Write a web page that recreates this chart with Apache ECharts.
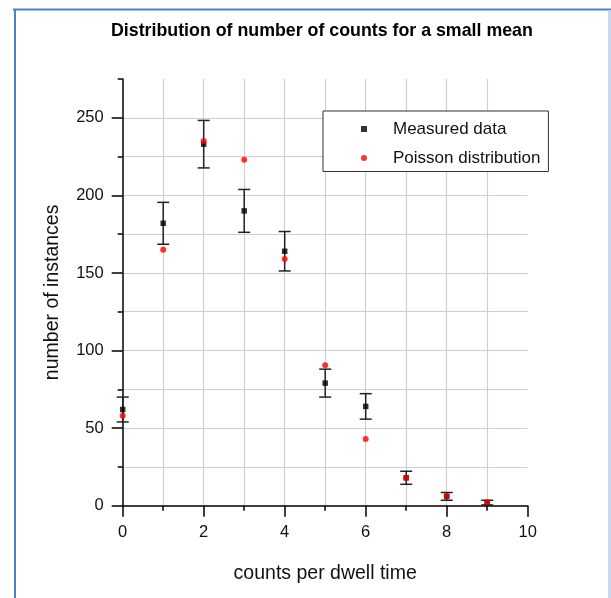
<!DOCTYPE html>
<html>
<head>
<meta charset="utf-8">
<script src="https://cdn.jsdelivr.net/npm/echarts@6/dist/echarts.min.js"></script>
<style>
html,body{margin:0;padding:0;background:#fff;}
#chart{width:611px;height:598px;}
</style>
</head>
<body>
<div id="chart"></div>
<script>
// ---- data ----
var counts = [0, 1, 2, 3, 4, 5, 6, 7, 8, 9];
var measured = [62, 182, 233, 190, 164, 79, 64, 18, 6, 2];
var measuredErr = [8, 13.5, 15.3, 13.8, 12.7, 9, 8.2, 4.2, 2.5, 1.5];
var poisson = [58, 165, 235, 223, 159, 90.5, 43, 17.8, 6.2, 2.2];
var xMajorTicks = [0, 2, 4, 6, 8, 10];
var yMajorTicks = [0, 50, 100, 150, 200, 250];

var FONT = '"Liberation Sans", Arial, Helvetica, sans-serif';
var chart = echarts.init(document.getElementById('chart'), null, {renderer: 'canvas'});

var option = {
  animation: false,
  backgroundColor: '#fff',
  title: {
    text: 'Distribution of number of counts for a small mean',
    left: 111, top: 22.5, padding: 0,
    textStyle: {fontFamily: FONT, fontSize: 17.8, fontWeight: 'bold', color: '#000'}
  },
  graphic: [
    {type: 'line', shape: {x1: 13, y1: 9.5, x2: 611, y2: 9.5}, style: {stroke: '#4f81bd', lineWidth: 2}, z: 100},
    {type: 'line', shape: {x1: 15, y1: 9, x2: 15, y2: 598}, style: {stroke: '#4f81bd', lineWidth: 2}, z: 100},
    {type: 'line', shape: {x1: 609.5, y1: 10.5, x2: 609.5, y2: 598}, style: {stroke: '#c9d8ec', lineWidth: 3}, z: 100}
  ],
  legend: {
    orient: 'vertical',
    left: 323, top: 111,
    padding: [9.5, 8, 5, 38],
    itemGap: 12,
    itemWidth: 6, itemHeight: 6,
    backgroundColor: '#fff',
    borderColor: '#333', borderWidth: 1,
    textStyle: {fontFamily: FONT, fontSize: 17, color: '#111', padding: [0, 0, 0, 21]},
    data: ['Measured data', 'Poisson distribution']
  },
  grid: {left: 122.7, right: 83.3, top: 79, bottom: 92.3, containLabel: false, outerBoundsMode: 'none'},
  xAxis: [
    {
      type: 'value', position: 'bottom', min: 0, max: 10, interval: 1,
      axisLine: {show: true, onZero: false, lineStyle: {color: '#000', width: 1.5}},
      axisTick: {show: true, length: 5, lineStyle: {color: '#000', width: 1.5}},
      axisLabel: {show: false},
      splitLine: {show: true, showMinLine: false, showMaxLine: false, lineStyle: {color: '#cfcfcf', width: 1.2}},
      name: 'counts per dwell time', nameLocation: 'middle', nameGap: 57.6,
      nameTextStyle: {fontFamily: FONT, fontSize: 19.5, color: '#111'}
    },
    {
      type: 'value', position: 'bottom', min: 0, max: 10, interval: 2,
      axisLine: {show: false, onZero: false},
      axisTick: {show: true, length: 11, customValues: xMajorTicks, lineStyle: {color: '#000', width: 1.5}},
      axisLabel: {show: true, margin: 18, customValues: xMajorTicks, fontFamily: FONT, fontSize: 16.5, color: '#111'},
      splitLine: {show: false}
    }
  ],
  yAxis: [
    {
      type: 'value', position: 'left', min: 0, max: 275, interval: 25,
      axisLine: {show: true, onZero: false, lineStyle: {color: '#000', width: 1.5}},
      axisTick: {show: true, length: 5, lineStyle: {color: '#000', width: 1.5}},
      axisLabel: {show: false},
      splitLine: {show: true, showMinLine: false, showMaxLine: false, lineStyle: {color: '#cfcfcf', width: 1.2}},
      name: 'number of instances', nameLocation: 'middle', nameGap: 60.4,
      nameTextStyle: {fontFamily: FONT, fontSize: 19.5, color: '#111'}
    },
    {
      type: 'value', position: 'left', min: 0, max: 275, interval: 50,
      axisLine: {show: false, onZero: false},
      axisTick: {show: true, length: 11, customValues: yMajorTicks, lineStyle: {color: '#000', width: 1.5}},
      axisLabel: {show: true, margin: 19, customValues: yMajorTicks, fontFamily: FONT, fontSize: 16.5, color: '#111'},
      splitLine: {show: false}
    }
  ],
  series: [
    {
      name: 'errors', type: 'custom', xAxisIndex: 0, yAxisIndex: 0, z: 2,
      data: counts.map(function (c, i) { return [c, measured[i], measuredErr[i]]; }),
      renderItem: function (params, api) {
        var x = api.value(0), y = api.value(1), e = api.value(2);
        var top = api.coord([x, y + e]);
        var bot = api.coord([x, y - e]);
        var w = 6;
        var st = {stroke: '#222', lineWidth: 1.5, fill: null};
        return {
          type: 'group',
          children: [
            {type: 'line', shape: {x1: top[0], y1: top[1], x2: bot[0], y2: bot[1]}, style: st},
            {type: 'line', shape: {x1: top[0] - w, y1: top[1], x2: top[0] + w, y2: top[1]}, style: st},
            {type: 'line', shape: {x1: bot[0] - w, y1: bot[1], x2: bot[0] + w, y2: bot[1]}, style: st}
          ]
        };
      },
      tooltip: {show: false}
    },
    {
      name: 'Measured data', type: 'scatter', xAxisIndex: 0, yAxisIndex: 0, z: 3,
      symbol: 'rect', symbolSize: 5.5,
      itemStyle: {color: '#000'},
      data: counts.map(function (c, i) { return [c, measured[i]]; })
    },
    {
      name: 'Poisson distribution', type: 'scatter', xAxisIndex: 0, yAxisIndex: 0, z: 4,
      symbol: 'circle', symbolSize: 6,
      itemStyle: {color: '#ff0000'},
      data: counts.map(function (c, i) { return [c, poisson[i]]; })
    }
  ]
};
chart.setOption(option);
</script>
</body>
</html>
